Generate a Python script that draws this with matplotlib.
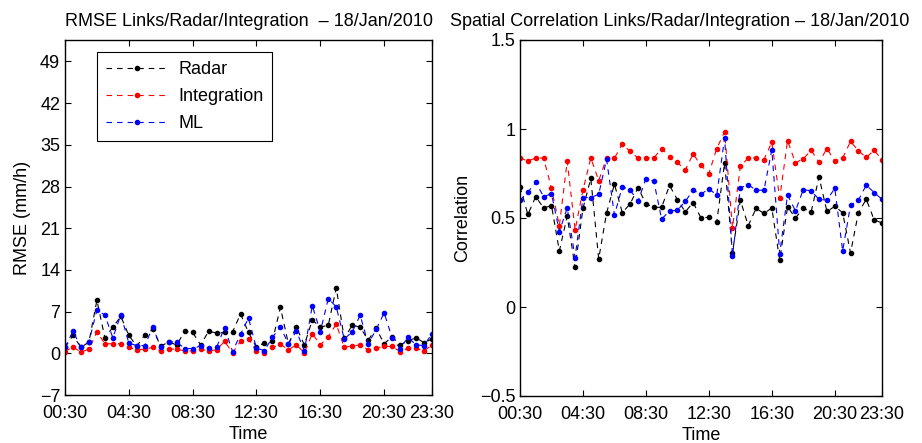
import numpy as np
import matplotlib
matplotlib.use('Agg')
import matplotlib.pyplot as plt

plt.rcParams['font.family'] = ['Liberation Sans', 'DejaVu Sans']
plt.rcParams['font.size'] = 13

# Time axis: half-hourly from 00:30 to 23:30 (hours)
hours = np.arange(0.5, 23.51, 0.5)
tick_hours = [0.5, 4.5, 8.5, 12.5, 16.5, 20.5, 23.5]
tick_labels = ['00:30', '04:30', '08:30', '12:30', '16:30', '20:30', '23:30']

# RMSE (mm/h)
rmse_radar = [1.0, 3.0, 1.0, 1.9, 8.9, 2.6, 4.4, 6.2, 3.0, 1.2,
              3.1, 4.0, 1.2, 1.9, 1.4, 3.7, 3.5, 1.4, 3.7, 3.4,
              3.5, 3.6, 6.6, 3.5, 1.0, 1.8, 2.1, 7.7, 1.6, 4.4,
              1.4, 5.6, 4.4, 4.7, 11.0, 2.5, 4.7, 4.4, 2.2, 4.2,
              1.6, 2.8, 1.4, 2.1, 2.6, 1.8, 2.4]
rmse_integration = [0.3, 1.1, 0.2, 0.7, 3.6, 1.6, 1.6, 1.6, 1.0, 0.6,
                    0.7, 1.0, 0.4, 0.7, 0.7, 0.4, 0.4, 0.7, 0.4, 0.6,
                    2.0, 0.1, 2.0, 2.4, 0.4, 0.1, 1.0, 1.5, 0.6, 1.4,
                    0.1, 3.3, 1.4, 2.8, 4.9, 1.0, 1.25, 1.4, 0.6, 0.9,
                    1.15, 1.15, 0.3, 0.85, 0.85, 0.4, 1.4]
rmse_ml = [1.0, 3.7, 1.0, 1.9, 7.3, 6.4, 2.6, 6.5, 1.7, 1.3,
           1.3, 4.4, 1.1, 1.9, 1.9, 0.8, 0.8, 1.25, 0.85, 1.0,
           4.3, 0.3, 3.2, 5.9, 0.85, 0.45, 2.7, 4.4, 1.6, 3.7,
           0.45, 8.0, 3.6, 9.2, 7.8, 2.4, 3.6, 6.4, 1.6, 4.0,
           6.8, 2.6, 0.8, 2.7, 1.4, 1.3, 3.3]

# Spatial correlation
corr_radar = [0.676, 0.52, 0.62, 0.556, 0.57, 0.315, 0.51, 0.222, 0.554, 0.722,
              0.27, 0.528, 0.69, 0.53, 0.58, 0.67, 0.58, 0.56, 0.56, 0.683,
              0.603, 0.535, 0.587, 0.5, 0.504, 0.476, 0.81, 0.305, 0.6, 0.457,
              0.554, 0.526, 0.556, 0.263, 0.563, 0.5, 0.554, 0.535, 0.73, 0.537,
              0.565, 0.53, 0.304, 0.53, 0.605, 0.49, 0.472]
corr_integration = [0.837, 0.82, 0.837, 0.837, 0.667, 0.457, 0.82, 0.433, 0.657, 0.837,
                    0.71, 0.837, 0.837, 0.915, 0.874, 0.837, 0.837, 0.837, 0.89, 0.843,
                    0.812, 0.77, 0.86, 0.795, 0.75, 0.89, 0.985, 0.444, 0.79, 0.837,
                    0.837, 0.828, 0.926, 0.61, 0.935, 0.81, 0.833, 0.88, 0.813, 0.89,
                    0.82, 0.837, 0.93, 0.878, 0.84, 0.88, 0.828]
corr_ml = [0.60, 0.645, 0.70, 0.62, 0.637, 0.424, 0.556, 0.278, 0.615, 0.615,
           0.633, 0.83, 0.517, 0.676, 0.656, 0.596, 0.72, 0.707, 0.494, 0.54,
           0.543, 0.593, 0.657, 0.633, 0.665, 0.628, 0.95, 0.285, 0.67, 0.687,
           0.656, 0.656, 0.883, 0.3, 0.63, 0.54, 0.66, 0.652, 0.605, 0.6,
           0.667, 0.315, 0.572, 0.6, 0.685, 0.643, 0.605]

series_names = ['Radar', 'Integration', 'ML']
series_colors = ['black', 'red', 'blue']

fig = plt.figure(figsize=(9.22, 4.43), dpi=100)
ax1 = fig.add_axes([65 / 922, 1 - 395 / 443, 367 / 922, 355 / 443])
ax2 = fig.add_axes([520 / 922, 1 - 396 / 443, 362 / 922, 356 / 443])

style = dict(linestyle=(0, (5, 4.5)), linewidth=0.8, marker='o', markersize=3)

for ys, name, col in zip([rmse_radar, rmse_integration, rmse_ml], series_names, series_colors):
    ax1.plot(hours, ys, color=col, label=name, **style)
for ys, name, col in zip([corr_radar, corr_integration, corr_ml], series_names, series_colors):
    ax2.plot(hours, ys, color=col, label=name, **style)

for ax in (ax1, ax2):
    ax.set_xlim(0.5, 23.5)
    ax.set_xticks(tick_hours)
    ax.set_xticklabels(tick_labels)
    ax.tick_params(direction='in', top=True, right=True, length=4, width=0.8)
    ax.tick_params(axis='x', pad=7)
    for sp in ax.spines.values():
        sp.set_linewidth(1.0)
    ax.set_xlabel('Time', labelpad=3)

ax1.set_ylim(-7, 52.6)
ax1.set_yticks(np.arange(-7, 50, 7))
ax1.set_ylabel('RMSE (mm/h)', labelpad=6)
ax1.set_title('RMSE Links/Radar/Integration  \u2013 18/Jan/2010', fontsize=13, pad=10)

ax2.set_ylim(-0.5, 1.5)
ax2.set_yticks([-0.5, 0, 0.5, 1, 1.5])
ax2.set_yticklabels(['\u22120.5', '0', '0.5', '1', '1.5'])
ax2.set_ylabel('Correlation', labelpad=6)
ax2.set_title('Spatial Correlation Links/Radar/Integration \u2013 18/Jan/2010',
              fontsize=13, pad=10, x=0.442)

leg = ax1.legend(loc='upper left', bbox_to_anchor=(0.087, 0.966), borderaxespad=0,
                 fancybox=False, edgecolor='black', framealpha=1, handlelength=3.4,
                 borderpad=0.5, labelspacing=0.55, handletextpad=0.6)
leg.get_frame().set_linewidth(0.8)

fig.savefig('out.png', dpi=100)
